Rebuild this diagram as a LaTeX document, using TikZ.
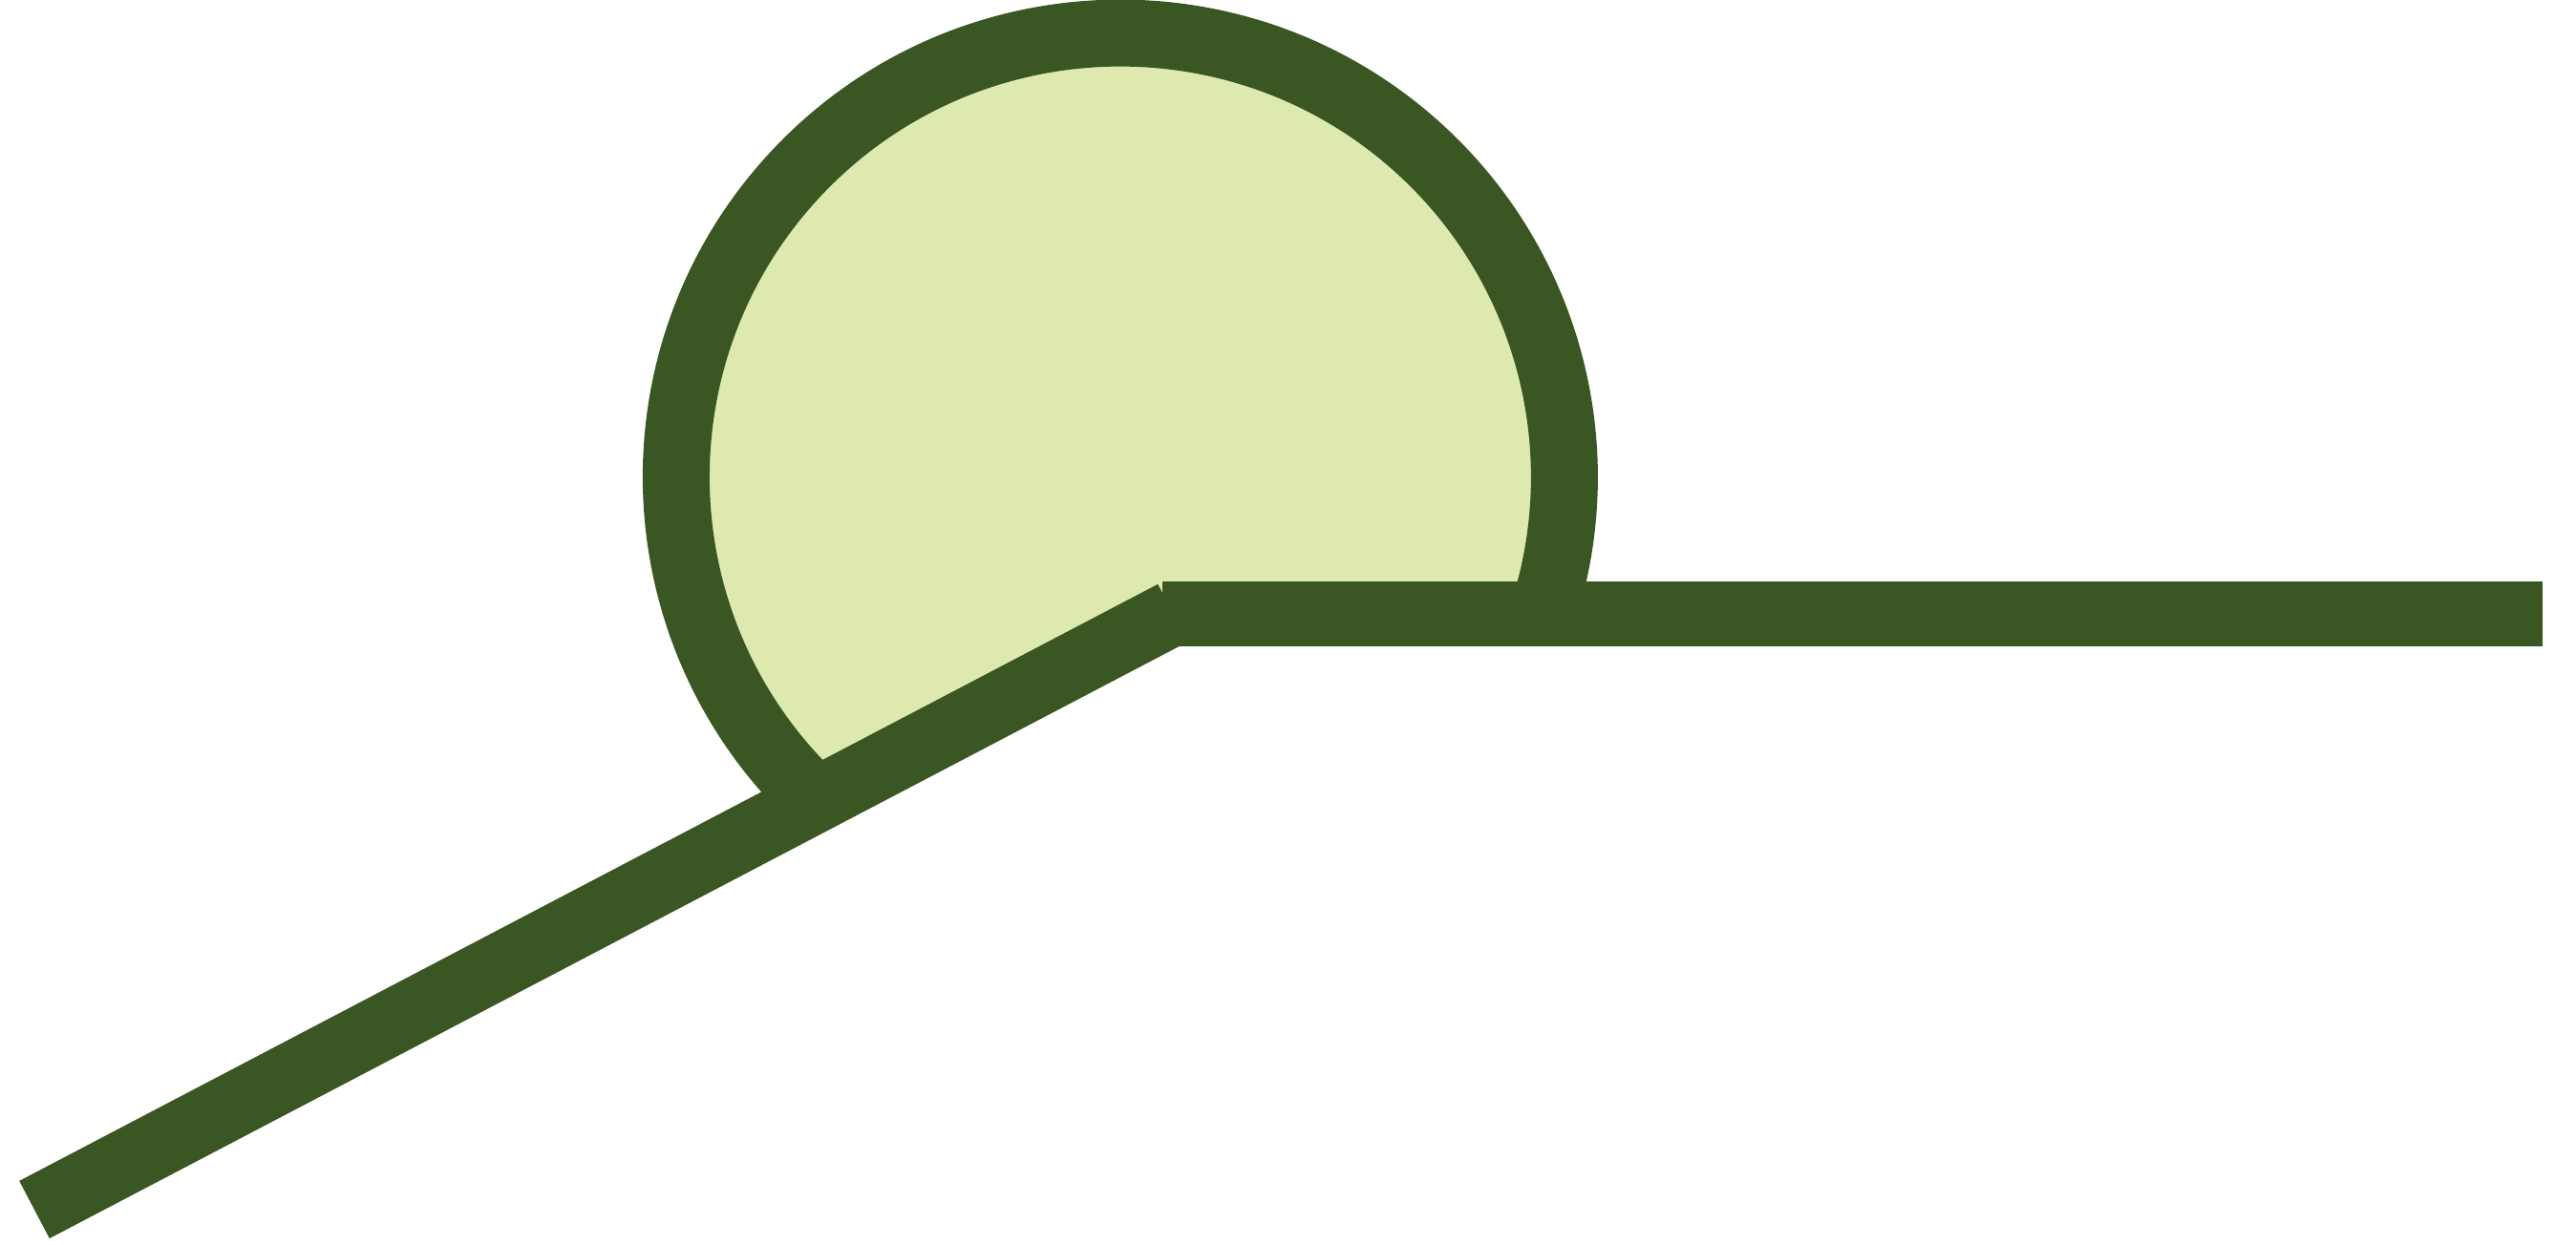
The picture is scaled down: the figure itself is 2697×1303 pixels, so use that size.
\documentclass[tikz,border=0pt]{standalone}
\usepackage{tikz}
\usetikzlibrary{calc}
\definecolor{leafdark}{HTML}{3A5723}
\definecolor{leaflight}{HTML}{DEE9B0}

\begin{document}
\begin{tikzpicture}[x=0.01cm, y=0.01cm,
		stem/.style={draw=leafdark, line width=0.68cm, line cap=butt},
		rim/.style={draw=leafdark, line width=0.70cm}]
	\useasboundingbox (0,0) rectangle (2697,1303);
	\coordinate (base) at (36,36);
	\coordinate (knee) at (1228,661);
	\coordinate (barstart) at (1217,660);
	\coordinate (barend) at (2662,660);
	\coordinate (rimleft) at (854,465);
	% bowl fill and its rim
	\fill[leaflight] (knee) -- (rimleft) arc[start angle=226.7, end angle=-17.8, radius=465] -- cycle;
	\draw[rim] (rimleft) arc[start angle=226.7, end angle=-17.8, radius=465];
	% the two straight strokes
	\draw[stem] (base) -- (knee);
	\draw[stem] (barstart) -- (barend);
\end{tikzpicture}
\end{document}
